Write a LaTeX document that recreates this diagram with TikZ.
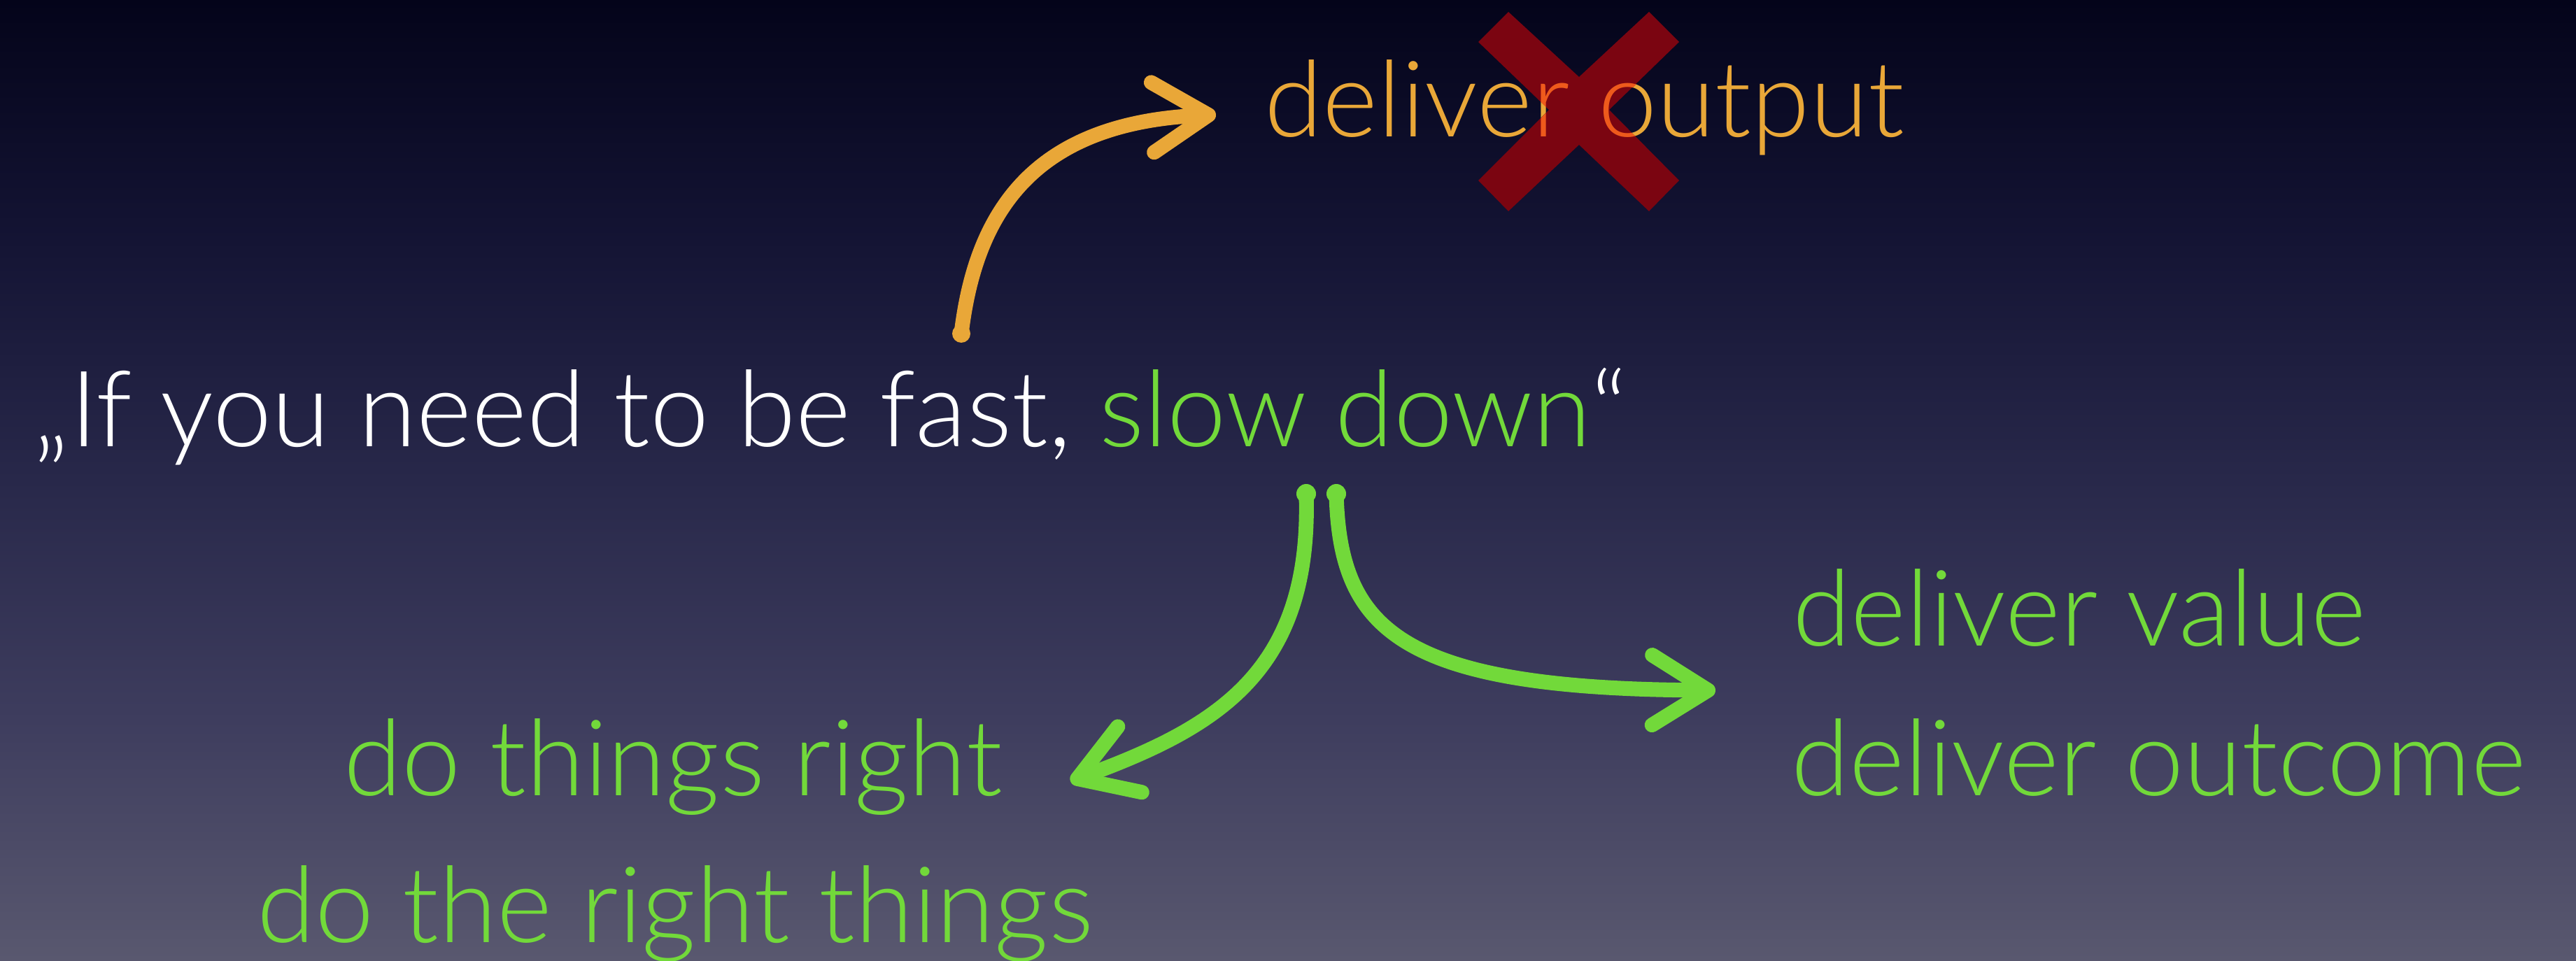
\documentclass[tikz,border=0pt]{standalone}
\usepackage{fontspec}
\setmainfont{Lato}[UprightFont=* Light]
\usepackage{xcolor}
\usetikzlibrary{arrows.meta, positioning}
\definecolor{SlideTop}{HTML}{04041A}
\definecolor{SlideHigh}{HTML}{141434}
\definecolor{SlideMid}{HTML}{28284A}
\definecolor{SlideLow}{HTML}{3E3D5E}
\definecolor{SlideBot}{HTML}{59586F}
\definecolor{GoodGreen}{HTML}{72D93A}
\definecolor{OutputOrange}{HTML}{E9A738}
\definecolor{CrossRed}{HTML}{7B0511}
\definecolor{CrossText}{HTML}{EE5A1C}
\pgfdeclareverticalshading{slidebg}{100bp}{color(0bp)=(SlideBot); color(25bp)=(SlideBot); color(37.5bp)=(SlideLow); color(50bp)=(SlideMid); color(62.5bp)=(SlideHigh); color(75bp)=(SlideTop); color(100bp)=(SlideTop)}

\begin{document}
\begin{tikzpicture}[
    txt/.style={font=\fontsize{43}{50}\selectfont, inner sep=0pt},
    grn/.style={txt, GoodGreen},
    hand/.style={line width=6pt, line cap=round, -{Straight Barb[length=8mm, width=10mm, round]}}
]
% Background
\fill[shading=slidebg] (0,0) rectangle (36.82,13.73);
\useasboundingbox (0,0) rectangle (36.82,13.73);

% Quote
\node[txt, white, anchor=base west] (quote) at (0.47,7.35) {„If you need to be fast, \textcolor{GoodGreen}{slow down}“};

% Struck out goal
\node[txt, OutputOrange, anchor=base west] (output) at (18.07,11.77) {deliver output};
\begin{scope}
    \clip (21.56,13.56) -- (22.57,12.63) -- (23.57,13.56) -- (24.00,13.13) -- (23.00,12.16) -- (24.00,11.15)
        -- (23.57,10.71) -- (22.57,11.66) -- (21.56,10.71) -- (21.13,11.15) -- (22.14,12.16) -- (21.13,13.13) -- cycle;
    \fill[CrossRed] (21,10.5) rectangle (24.2,13.8);
    \node[txt, CrossText, anchor=base west] at (output.base west) {deliver output};
\end{scope}

% Green goals
\node[grn, anchor=base west] (value) at (25.62,4.50) {deliver value};
\node[grn, anchor=base west] (outcome) at (25.60,2.36) {deliver outcome};
\node[grn, anchor=base] (right) at (9.62,2.36) {do things right};
\node[grn, anchor=base] (things) at (9.65,0.26) {do the right things};

% Hand drawn arrows
\coordinate (oTail) at (13.74,8.96);
\coordinate (oTip) at (17.38,12.09);
\coordinate (lTail) at (18.67,6.67);
\coordinate (lTip) at (15.30,2.56);
\coordinate (rTail) at (19.10,6.67);
\coordinate (rTip) at (24.52,3.86);
\draw[hand, OutputOrange] (oTail) .. controls (13.95,10.73) and (14.80,11.98) .. (oTip);
\draw[hand, GoodGreen] (lTail) .. controls (18.75,4.13) and (17.40,3.33) .. (lTip);
\draw[hand, GoodGreen] (rTail) .. controls (19.15,4.73) and (20.00,3.88) .. (rTip);
\fill[OutputOrange] (oTail) circle (1.3mm);
\fill[GoodGreen] (lTail) circle (1.4mm) (rTail) circle (1.4mm);
\end{tikzpicture}
\end{document}
